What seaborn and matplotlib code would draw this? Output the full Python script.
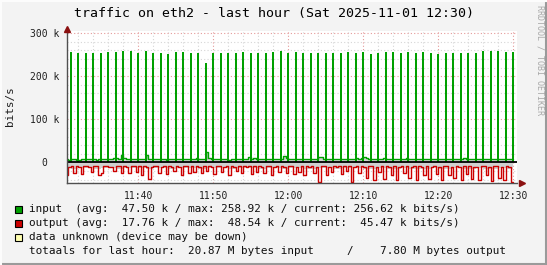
import numpy as np
import pandas as pd
import matplotlib
matplotlib.use("Agg")
import matplotlib.pyplot as plt
import seaborn as sns
from matplotlib.patches import Rectangle
from matplotlib.lines import Line2D

sns.set_style("white")
plt.rcParams['font.family'] = ['DejaVu Sans Mono', 'DejaVu Sans']

# ---------------- data (k bits/s) ----------------
# spike heights of input at each full minute after 11:30 (minutes 1..60)
spike_minutes = list(range(1, 61))
spike_heights = [255.8, 253.5, 254.9, 254.9, 254.9, 257.2, 255.8, 258.9, 258.9, 254.9,
                 258.9, 254.9, 254.9, 252.6, 256.5, 256.5, 254.9, 254.9, 231.6, 254.9,
                 254.9, 254.9, 254.9, 256.5, 254.9, 254.9, 255.1, 256.5, 258.8, 255.1,
                 256.5, 255.1, 255.1, 255.1, 255.1, 255.1, 255.1, 256.5, 255.1, 256.5,
                 252.0, 255.1, 256.5, 256.5, 255.1, 256.5, 255.1, 256.5, 255.1, 252.0,
                 255.1, 255.1, 255.1, 255.1, 255.1, 258.8, 258.8, 258.8, 256.5, 256.6]

# input baseline, 20 s samples
input_base = [7, 7, 6, 7, 7, 6, 6, 7, 7, 8, 7, 7, 7, 6, 7, 7, 8, 7, 7, 7, 9, 10, 8, 18, 9, 7, 7, 7, 8, 7,
              8, 7, 7, 18, 8, 7, 7, 7, 8, 7, 7, 6, 7, 7, 8, 7, 7, 7, 8, 7, 7, 7, 8, 9, 8, 7, 7, 25, 10, 8,
              8, 7, 7, 7, 8, 7, 6, 7, 7, 7, 7, 8, 7, 7, 12, 8, 9, 8, 7, 7, 7, 8, 7, 7, 8, 7, 7, 7, 15, 9,
              8, 7, 7, 7, 8, 7, 7, 7, 8, 7, 7, 7, 12, 12, 8, 7, 7, 7, 8, 7, 7, 7, 8, 7, 7, 7, 8, 9, 7, 11,
              12, 9, 7, 8, 7, 7, 7, 8, 9, 8, 7, 7, 7, 7, 8, 7, 7, 9, 8, 7, 7, 7, 8, 7, 7, 7, 8, 7, 7, 7,
              7, 8, 7, 7, 7, 8, 7, 7, 7, 8, 9, 8, 7, 7, 7, 7, 8, 7, 7, 7, 8, 7, 7, 7, 8, 7, 7, 7, 8, 7]

# output, 20 s samples (drawn downward)
output_vals = [8, 30, 10, 9, 25, 8, 12, 28, 9, 8, 10, 22, 8, 9, 30, 26, 9, 8, 12, 10, 20, 9, 8, 24, 9, 10, 26, 8, 9, 22,
               9, 30, 8, 12, 38, 10, 8, 9, 25, 10, 8, 28, 9, 12, 20, 8, 10, 30, 9, 8, 24, 9, 22, 8, 10, 26, 9, 20, 8, 12,
               28, 9, 8, 22, 10, 9, 30, 8, 12, 20, 9, 25, 8, 10, 9, 28, 8, 22, 9, 10, 26, 8, 9, 30, 10, 8, 22, 9, 12, 25,
               9, 8, 28, 10, 22, 9, 30, 8, 12, 9, 25, 10, 46, 9, 8, 30, 10, 22, 9, 12, 8, 28, 9, 20, 8, 46, 10, 9, 25, 8,
               12, 36, 9, 8, 40, 10, 22, 9, 38, 8, 12, 30, 9, 40, 10, 8, 25, 9, 36, 10, 8, 42, 9, 12, 30, 8, 38, 10, 9, 28,
               10, 40, 9, 8, 30, 12, 36, 9, 10, 42, 8, 28, 9, 38, 10, 12, 40, 8, 9, 30, 10, 44, 9, 8, 36, 12, 40, 9, 10, 45]

# grey band depth below zero, per minute
band_depth = [14, 15, 13, 14, 16, 14, 13, 15, 14, 13, 14, 15, 14, 13, 15, 14, 13, 14, 15, 14,
              14, 13, 15, 14, 13, 14, 16, 14, 13, 15, 14, 13, 15, 16, 14, 13, 15, 14, 13, 14,
              16, 15, 14, 15, 16, 14, 15, 16, 15, 14, 16, 15, 14, 16, 15, 14, 15, 16, 14, 15]

x_tick_minutes = [10, 20, 30, 40, 50, 60]
x_tick_labels = ["11:40", "11:50", "12:00", "12:10", "12:20", "12:30"]
y_ticks = [0, 100, 200, 300]
y_tick_labels = ["0  ", "100 k", "200 k", "300 k"]

title = "traffic on eth2 - last hour (Sat 2025-11-01 12:30)"
legend_rows = [
    ("input  (avg:  47.50 k / max: 258.92 k / current: 256.62 k bits/s)", "#00a000"),
    ("output (avg:  17.76 k / max:  48.54 k / current:  45.47 k bits/s)", "#cc0000"),
    ("data unknown (device may be down)", "#ffffb0"),
    ("totaals for last hour:  20.87 M bytes input     /    7.80 M bytes output", None),
]

# ---------------- figure ----------------
W, H = 547, 265
fig = plt.figure(figsize=(W / 100, H / 100), dpi=100)
fig.patch.set_facecolor('#f3f3f3')

L, R, T, B = 66.7, 517.0, 31.0, 182.7
ax = fig.add_axes([L / W, 1 - B / H, (R - L) / W, (B - T) / H])
ax.set_facecolor('white')

n = len(input_base)
df = pd.DataFrame({
    "t": (np.arange(n) + 1) / 3.0,
    "inp": input_base,
    "out": -np.array(output_vals, dtype=float),
    "band": -np.repeat(band_depth, 3).astype(float),
})

green = "#00a000"
red = "#cc0000"

# grey band
ax.fill_between(df.t, df.inp, df.band, step='pre', color='#d0d0d0', lw=0, zorder=2)
ax.fill_between(df.t, df.band, df.out, where=df.out < df.band, step='pre',
                color='white', lw=0, zorder=2.1)

# grid
ax.set_xlim(0.45, 60.49)
ax.set_ylim(-47.4, 305.3)
ax.set_xticks(x_tick_minutes)
ax.set_xticklabels(x_tick_labels)
ax.set_xticks(np.arange(2, 61, 2), minor=True)
ax.set_yticks(y_ticks)
ax.set_yticklabels(y_tick_labels)
ax.set_yticks(np.arange(-40, 301, 20), minor=True)
ax.grid(True, which='minor', color='#d6d6d6', linestyle=(0, (1, 2)), lw=0.8, zorder=1)
ax.grid(True, which='major', color='#e59a9a', linestyle=(0, (1, 2)), lw=0.8, zorder=1.1)

# lines
sns.lineplot(data=df, x="t", y="inp", ax=ax, color=green, lw=1.0, drawstyle='steps-pre', zorder=3)
ax.bar(spike_minutes, spike_heights, width=0.3, color=green, lw=0, zorder=3.5)
sns.lineplot(data=df, x="t", y="out", ax=ax, color=red, lw=1.0, drawstyle='steps-pre', zorder=4)
ax.axhline(0, color='black', lw=1.3, zorder=5)

ax.set_xlabel("")
ax.set_ylabel("")

for s in ['top', 'right']:
    ax.spines[s].set_visible(False)
for s in ['left', 'bottom']:
    ax.spines[s].set_color('#505050')
    ax.spines[s].set_linewidth(1.0)
    ax.spines[s].set_zorder(6)

ax.tick_params(axis='both', which='major', direction='inout', length=4, width=0.8,
               color='#d05050', labelsize=7, labelcolor='#202020')
ax.tick_params(axis='both', which='minor', direction='inout', length=3, width=0.8, color='#909090')
ax.tick_params(axis='x', which='major', pad=4)
ax.tick_params(axis='y', which='major', pad=3)

# arrows
ax.plot([0], [1.01], marker='^', ms=5, color='#8b1010', transform=ax.transAxes, clip_on=False, zorder=7)
ax.plot([1.012], [0], marker='>', ms=5, color='#8b1010', transform=ax.transAxes, clip_on=False, zorder=7)

# texts
fig.text(273.5 / W, 1 - 13 / H, title, ha='center', va='center', fontsize=9.57, color='#000000')
fig.text(10 / W, 1 - 106 / H, "bits/s", rotation=90, ha='center', va='center', fontsize=7.9, color='#202020')
fig.text(540 / W, 1 - 60 / H, "RRDTOOL / TOBI OETIKER", rotation=270, ha='center', va='center',
         fontsize=6, color='#a8a8a8')

rows_y = [209.3, 223.3, 237.3, 251.0]
for (txt, col), yy in zip(legend_rows, rows_y):
    if col is not None:
        fig.patches.append(Rectangle((15 / W, 1 - (yy + 3.5) / H), 7 / W, 7 / H,
                                     transform=fig.transFigure, facecolor=col,
                                     edgecolor='black', lw=0.8, figure=fig))
    fig.text(29.3 / W, 1 - yy / H, txt, ha='left', va='center', fontsize=7.95, color='#101010')

# frame shading
fig.add_artist(Line2D([0, 1], [1 / H, 1 / H], transform=fig.transFigure, color='#9a9a9a', lw=1.5))
fig.add_artist(Line2D([1 - 1 / W, 1 - 1 / W], [0, 1], transform=fig.transFigure, color='#9a9a9a', lw=1.5))
fig.add_artist(Line2D([0, 1], [1 - 0.5 / H, 1 - 0.5 / H], transform=fig.transFigure, color='#fcfcfc', lw=1.5))
fig.add_artist(Line2D([0.5 / W, 0.5 / W], [0, 1], transform=fig.transFigure, color='#fcfcfc', lw=1.5))

fig.savefig("out.png", dpi=100, facecolor=fig.get_facecolor())
